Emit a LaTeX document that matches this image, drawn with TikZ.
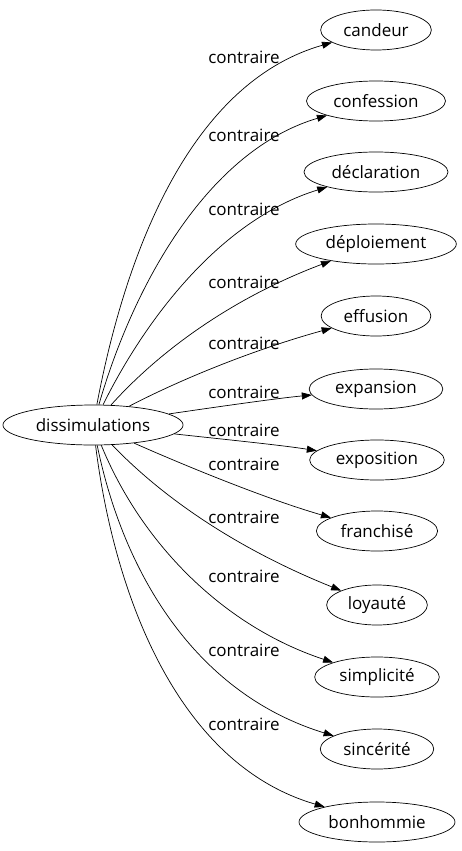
\documentclass[tikz,border=0pt]{standalone}
\usepackage{fontspec}
\setmainfont{Open Sans}
\usetikzlibrary{shapes.geometric,arrows.meta}

\tikzset{
  word/.style={draw, ellipse, minimum height=40pt, inner xsep=6.5pt, inner ysep=2pt,
    font=\fontsize{17}{20}\selectfont},
  rel/.style={-{Triangle[length=10pt,width=7pt]}, line width=0.7pt},
  lbl/.style={font=\fontsize{17}{20}\selectfont, inner sep=0pt}
}

\begin{document}
\begin{tikzpicture}[x=1pt, y=-1pt, line width=0.7pt]
        \useasboundingbox (0,0) rectangle (462,851);

        % Source word
        \node[word] (diss) at (93,425) {dissimulations};

        % Opposites
        \node[word] (candeur) at (376,30) {candeur};
        \node[word] (confession) at (376,101) {confession};
        \node[word] (declaration) at (376,172) {déclaration};
        \node[word] (deploiement) at (376,244) {déploiement};
        \node[word] (effusion) at (376,316) {effusion};
        \node[word] (expansion) at (376,389) {expansion};
        \node[word] (exposition) at (377,460) {exposition};
        \node[word] (franchise) at (377,531) {franchisé};
        \node[word] (loyaute) at (377,605) {loyauté};
        \node[word] (simplicite) at (377,677) {simplicité};
        \node[word] (sincerite) at (377,749) {sincérité};
        \node[word] (bonhommie) at (377,822) {bonhommie};

        % Edges
        \draw[rel] (diss) .. controls (130,230) and (200,80) .. (candeur);
        \draw[rel] (diss) .. controls (135,280) and (210,150) .. (confession);
        \draw[rel] (diss) .. controls (145,320) and (220,220) .. (declaration);
        \draw[rel] (diss) .. controls (165,345) and (240,295) .. (deploiement);
        \draw[rel] (diss) .. controls (195,372) and (270,345) .. (effusion);
        \draw[rel] (diss) .. controls (230,405) and (280,398) .. (expansion);
        \draw[rel] (diss) .. controls (230,440) and (280,445) .. (exposition);
        \draw[rel] (diss) .. controls (195,470) and (270,500) .. (franchise);
        \draw[rel] (diss) .. controls (165,500) and (240,550) .. (loyaute);
        \draw[rel] (diss) .. controls (140,540) and (220,625) .. (simplicite);
        \draw[rel] (diss) .. controls (125,580) and (200,695) .. (sincerite);
        \draw[rel] (diss) .. controls (115,600) and (180,765) .. (bonhommie);

        % Edge labels
        \node[lbl] (l1) at (244,57) {contraire};
        \node[lbl] (l2) at (244,135) {contraire};
        \node[lbl] (l3) at (244,209) {contraire};
        \node[lbl] (l4) at (244,282) {contraire};
        \node[lbl] (l5) at (244,343) {contraire};
        \node[lbl] (l6) at (244,392) {contraire};
        \node[lbl] (l7) at (244,430) {contraire};
        \node[lbl] (l8) at (244,464) {contraire};
        \node[lbl] (l9) at (244,517) {contraire};
        \node[lbl] (l10) at (244,576) {contraire};
        \node[lbl] (l11) at (244,650) {contraire};
        \node[lbl] (l12) at (244,724) {contraire};
    \end{tikzpicture}
\end{document}
